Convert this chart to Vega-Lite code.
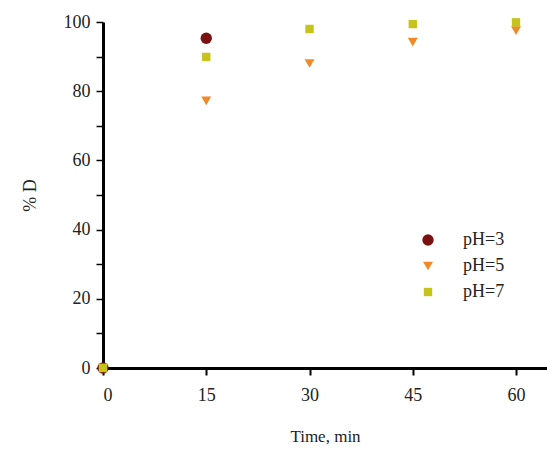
{
  "$schema": "https://vega.github.io/schema/vega-lite/v6.json",
  "width": 444,
  "height": 346,
  "autosize": {"type": "none"},
  "padding": {"left": 103, "top": 22, "right": 0, "bottom": 89},
  "background": "white",
  "config": {
    "view": {"stroke": null},
    "font": "Liberation Serif",
    "legend": {"labelFont": "Liberation Serif"},
    "axis": {"grid": false, "domainColor": "black", "tickColor": "black", "labelColor": "#222", "titleColor": "#222", "labelFont": "Liberation Serif", "titleFont": "Liberation Serif", "titleFontWeight": "normal"}
  },
  "data": {
    "values": [
      {"time": 0, "D": 0, "series": "pH=3"},
      {"time": 15, "D": 95.3, "series": "pH=3"},
      {"time": 0, "D": 0, "series": "pH=5"},
      {"time": 15, "D": 77.2, "series": "pH=5"},
      {"time": 30, "D": 88.0, "series": "pH=5"},
      {"time": 45, "D": 94.2, "series": "pH=5"},
      {"time": 60, "D": 97.5, "series": "pH=5"},
      {"time": 0, "D": 0, "series": "pH=7"},
      {"time": 15, "D": 89.9, "series": "pH=7"},
      {"time": 30, "D": 98.0, "series": "pH=7"},
      {"time": 45, "D": 99.4, "series": "pH=7"},
      {"time": 60, "D": 99.9, "series": "pH=7"}
    ]
  },
  "mark": {"type": "point", "filled": true, "opacity": 1, "clip": false},
  "encoding": {
    "x": {
      "field": "time", "type": "quantitative",
      "scale": {"domain": [0, 64.5], "nice": false, "zero": true},
      "axis": {"values": [0, 15, 30, 45, 60], "title": "Time, min", "domainWidth": 3, "tickSize": 7, "tickWidth": 2, "labelFontSize": 18, "labelPadding": 11, "titleFontSize": 17, "titlePadding": 24}
    },
    "y": {
      "field": "D", "type": "quantitative",
      "scale": {"domain": [0, 100], "nice": false},
      "axis": {"values": [0, 10, 20, 30, 40, 50, 60, 70, 80, 90, 100], "labelExpr": "datum.value % 20 == 0 ? datum.label : ''", "title": "% D", "domainWidth": 3, "tickSize": 7, "tickWidth": 1.5, "labelFontSize": 18, "labelPadding": 6, "titleFontSize": 18, "titlePadding": 24}
    },
    "color": {
      "field": "series", "type": "nominal",
      "scale": {"domain": ["pH=3", "pH=5", "pH=7"], "range": ["#7a1010", "#f08a28", "#c6c41b"]},
      "legend": {"orient": "none", "legendX": 316, "legendY": 209, "title": null, "labelFontSize": 18, "labelFont": "Liberation Serif", "labelColor": "#222", "rowPadding": 8, "symbolSize": 110, "labelOffset": 26}
    },
    "shape": {
      "field": "series", "type": "nominal",
      "scale": {"domain": ["pH=3", "pH=5", "pH=7"], "range": ["circle", "triangle-down", "square"]},
      "legend": null
    },
    "size": {
      "field": "series", "type": "nominal",
      "scale": {"domain": ["pH=3", "pH=5", "pH=7"], "range": [130, 70, 100]},
      "legend": null
    }
  }
}
